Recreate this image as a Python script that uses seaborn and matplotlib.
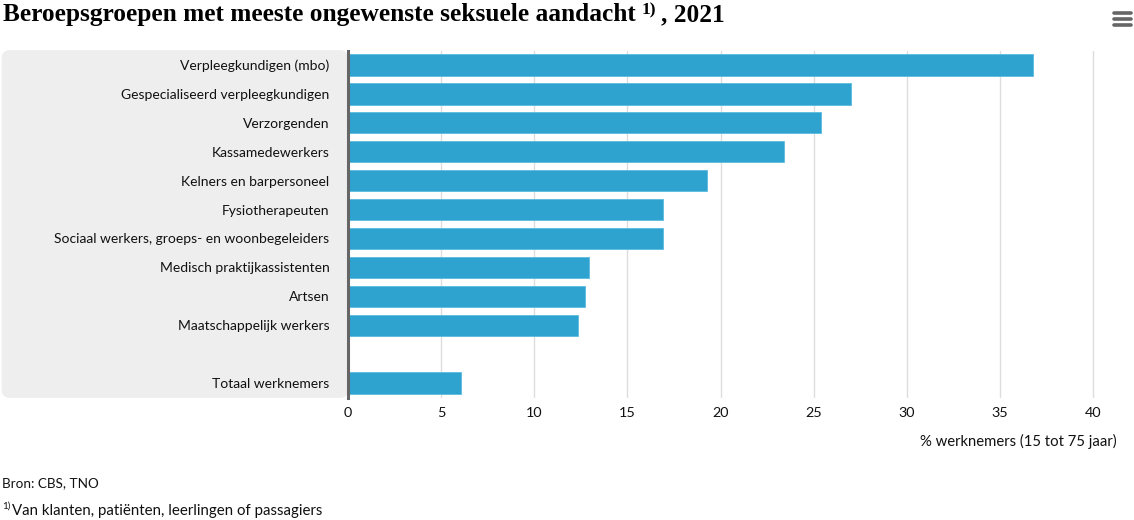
#! /usr/bin/env python
# imports
from matplotlib.lines import Line2D
from matplotlib.patches import FancyBboxPatch
import matplotlib.pyplot as plt
import numpy as np
import pandas as pd
import seaborn as sns

# data
beroepen = ["Verpleegkundigen (mbo)", "Gespecialiseerd verpleegkundigen", "Verzorgenden",
            "Kassamedewerkers", "Kelners en barpersoneel", "Fysiotherapeuten",
            "Sociaal werkers, groeps- en woonbegeleiders", "Medisch praktijkassistenten",
            "Artsen", "Maatschappelijk werkers", " ", "Totaal werknemers"]
percentage = [36.8, 27.0, 25.4, 23.4, 19.3, 16.9, 16.9, 12.95, 12.75, 12.35, np.nan, 6.05]
x_ticks = [0, 5, 10, 15, 20, 25, 30, 35, 40]

W, H = 1134, 520
FONT = "Lato"
TITLE_FONT = "Liberation Serif"
TEXT = "#111111"
SIZE = 10.0

# settings
sns.set_style("white")
plt.rcParams['font.family'] = [FONT, 'DejaVu Sans']

df = pd.DataFrame({"beroep": beroepen, "pct": percentage})

fig = plt.figure(figsize=(W / 100, H / 100), dpi=100)
ax = fig.add_axes([348 / W, 1 - 397.5 / H, (1117 - 348) / W, 347 / H])

# grey panel behind the category labels
panel = FancyBboxPatch((2 / W, 1 - 397.5 / H), 346 / W, 347 / H,
                       boxstyle="round,pad=0,rounding_size=0.007",
                       transform=fig.transFigure, fc="#eeeeee", ec="#eeeeee", lw=0.5,
                       zorder=-5, mutation_aspect=W / H)
fig.add_artist(panel)

sns.barplot(data=df, x="pct", y="beroep", order=beroepen, color="#2fa3d0", saturation=1,
            width=0.74, edgecolor="#5cbbdf", linewidth=0.6, ax=ax, zorder=3)

ax.set_xlim(0, 769 / 18.625)
ax.set_ylim(11.5, -0.5)
ax.set_xticks(x_ticks)
ax.set_xticklabels([str(t) for t in x_ticks])
ax.set_xlabel("")
ax.set_ylabel("")
ax.grid(axis="x", color="#dddddd", lw=1.0, zorder=0)
ax.set_axisbelow(True)
ax.patch.set_alpha(0)
for s in ["top", "right", "bottom"]:
    ax.spines[s].set_visible(False)
ax.spines["left"].set_color("#666666")
ax.spines["left"].set_linewidth(2.2)
ax.spines["left"].set_zorder(6)
ax.tick_params(axis="x", length=0, pad=7, labelsize=10.4, labelcolor=TEXT)
ax.tick_params(axis="y", length=0, pad=13.5, labelsize=SIZE, labelcolor=TEXT)


def put(x, y, s, **kw):
    # place text by pixel position of the reference
    kw.setdefault("color", TEXT)
    kw.setdefault("va", "baseline")
    return fig.text(x / W, 1 - y / H, s, **kw)


# title, with its footnote mark as a separate raised text
put(3, 21, "Beroepsgroepen met meeste ongewenste seksuele aandacht", fontsize=18.3,
    fontweight="bold", family=TITLE_FONT, color="#000000")
put(642, 14, "1)", fontsize=12.5, fontweight="bold", family=TITLE_FONT, color="#000000")
put(661, 21, ", 2021", fontsize=18.3, fontweight="bold", family=TITLE_FONT, color="#000000")

put(1117, 446, "% werknemers (15 tot 75 jaar)", fontsize=10.7, ha="right")
put(2, 487, "Bron: CBS, TNO", fontsize=9.7)
put(2, 509, "1)", fontsize=7)
put(12, 515, "Van klanten, patiënten, leerlingen of passagiers", fontsize=10.8)

# menu icon top right
for y in [12.5, 18.5, 24.5]:
    fig.add_artist(Line2D([1114 / W, 1131 / W], [1 - y / H, 1 - y / H], color="#666666",
                          lw=2.6, solid_capstyle="round"))

fig.savefig("out.png", dpi=100)
plt.close()
